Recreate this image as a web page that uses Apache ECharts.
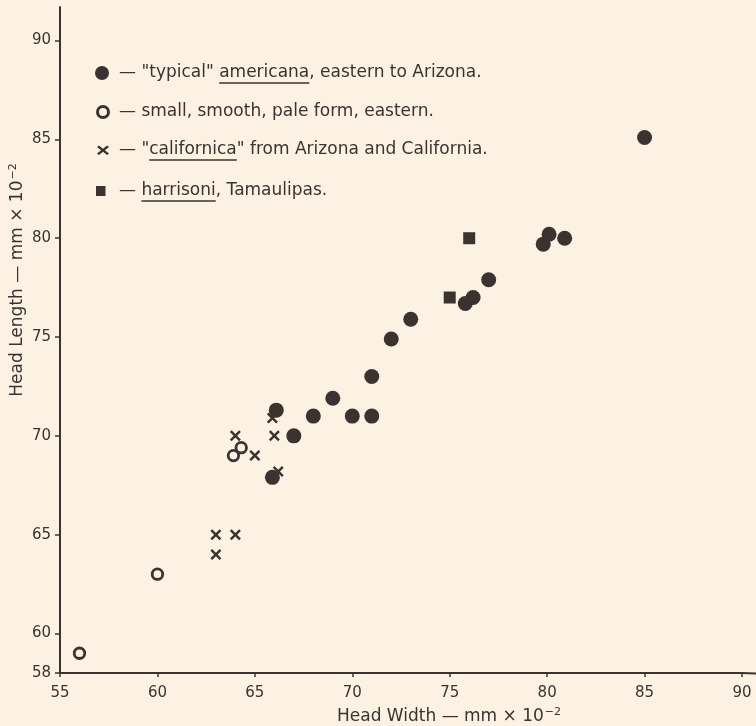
<!DOCTYPE html>
<html>
<head>
<meta charset="utf-8">
<script src="https://cdn.jsdelivr.net/npm/echarts@6/dist/echarts.min.js"></script>
<style>
html,body{margin:0;padding:0;background:#fcf2e3;}
#c{width:756px;height:726px;}
</style>
</head>
<body>
<div id="c"></div>
<script>
// ---- data (Head Width, Head Length), mm x 10^-2 ----
const typicalAmericana = [
  [85, 85.1], [80.1, 80.2], [80.9, 80.0], [79.8, 79.7], [77, 77.9],
  [76.2, 77.0], [75.8, 76.7], [73, 75.9], [72, 74.9], [71, 73],
  [69, 71.9], [68, 71], [70, 71], [71, 71], [66.1, 71.3], [67, 70], [65.9, 67.9]
];
const smallPaleForm = [[64.3, 69.4], [63.9, 69], [60, 63], [56, 59]];
const californica = [
  [65.9, 70.9], [66, 70], [64, 70], [65, 69], [66.2, 68.2], [63, 65], [64, 65], [63, 64]
];
const harrisoni = [[76, 80], [75, 77]];

const xTicks = [55, 60, 65, 70, 75, 80, 85, 90];
const yTicks = [58, 60, 65, 70, 75, 80, 85, 90];

const legendLines = [
  ['— "typical" ', 'americana', ', eastern to Arizona.'],
  ['— small, smooth, pale form, eastern.', '', ''],
  ['— "', 'californica', '" from Arizona and California.'],
  ['— ', 'harrisoni', ', Tamaulipas.']
];
const xTitle = 'Head Width — mm × 10{s|−2}';
const yTitle = 'Head Length — mm × 10{s|−2}';

const ink = '#3a3330';
const bg = '#fcf2e3';
const crossPath = 'path://M1.6,0 L5,3.4 L8.4,0 L10,1.6 L6.6,5 L10,8.4 L8.4,10 L5,6.6 L1.6,10 L0,8.4 L3.4,5 L0,1.6 Z';
const crossPts = [[1.6,0],[5,3.4],[8.4,0],[10,1.6],[6.6,5],[10,8.4],[8.4,10],[5,6.6],[1.6,10],[0,8.4],[3.4,5],[0,1.6]];
const font = 'DejaVu Sans';
const legFontSize = 17;

const chart = echarts.init(document.getElementById('c'), null, {renderer: 'canvas'});

const mctx = document.createElement('canvas').getContext('2d');
mctx.font = legFontSize + 'px "' + font + '"';
function w(s) { return mctx.measureText(s).width; }

const rowY = [73, 112, 150, 191];
const symX = 103, textX = 119;
const graphics = [];
legendLines.forEach((parts, i) => {
  const y = rowY[i];
  graphics.push({
    type: 'text', x: textX, y: y,
    style: {text: parts.join(''), fill: ink, font: legFontSize + 'px "' + font + '"', verticalAlign: 'middle'}
  });
  if (parts[1]) {
    const x0 = textX + w(parts[0]);
    const x1 = x0 + w(parts[1]);
    graphics.push({
      type: 'line', shape: {x1: x0, y1: y + 10, x2: x1, y2: y + 10},
      style: {stroke: ink, lineWidth: 1.5}
    });
  }
});
// legend symbols
graphics.push({type: 'circle', shape: {cx: 102, cy: rowY[0], r: 7}, style: {fill: ink}});
graphics.push({type: 'circle', shape: {cx: symX, cy: rowY[1], r: 5.5}, style: {fill: 'none', stroke: ink, lineWidth: 3}});
graphics.push({type: 'polygon', shape: {points: crossPts.map(p => [symX - 6 + p[0] * 1.2, rowY[2] - 4.5 + p[1] * 0.95])}, style: {fill: ink}});
graphics.push({type: 'rect', shape: {x: 96, y: rowY[3] - 5, width: 9.5, height: 10}, style: {fill: ink}});
// axis titles
const richSup = {s: {fontSize: 11, verticalAlign: 'top', padding: [0, 0, 9, 1], fill: ink, fontFamily: font}};
graphics.push({
  type: 'text', x: 18, y: 280, rotation: Math.PI / 2,
  style: {text: yTitle, fill: ink, font: '17px "' + font + '"', align: 'center', verticalAlign: 'middle', rich: richSup}
});
graphics.push({
  type: 'text', x: 337, y: 717,
  style: {text: xTitle, fill: ink, font: '17px "' + font + '"', align: 'left', verticalAlign: 'middle', rich: richSup}
});
// short extension of the bottom axis line past the last tick
graphics.push({type: 'line', shape: {x1: 742, y1: 673, x2: 756, y2: 673.5}, style: {stroke: ink, lineWidth: 2}});

chart.setOption({
  backgroundColor: bg,
  animation: false,
  grid: {left: 60, right: 14, top: 7, bottom: 53},
  xAxis: {
    type: 'value', min: 55, max: 90, interval: 5,
    axisLine: {show: true, lineStyle: {color: ink, width: 2}},
    splitLine: {show: false},
    axisLabel: {color: ink, fontSize: 15, fontFamily: font, margin: 13},
    axisTick: {show: true, length: 4, lineStyle: {color: ink, width: 1.5}}
  },
  yAxis: {
    type: 'value', min: 58, max: 91.7,
    axisLine: {show: true, lineStyle: {color: ink, width: 2}},
    splitLine: {show: false},
    axisLabel: {color: ink, fontSize: 15, fontFamily: font, margin: 9, customValues: yTicks},
    axisTick: {show: true, length: 5, lineStyle: {color: ink, width: 1.5}, customValues: yTicks}
  },
  graphic: graphics,
  series: [
    {
      name: 'typical americana', type: 'scatter', data: typicalAmericana,
      symbol: 'circle', symbolSize: 15,
      itemStyle: {color: ink, opacity: 1}
    },
    {
      name: 'small pale form', type: 'scatter', data: smallPaleForm,
      symbol: 'circle', symbolSize: 10.5,
      itemStyle: {color: bg, borderColor: ink, borderWidth: 2.8, opacity: 1}
    },
    {
      name: 'californica', type: 'scatter', data: californica,
      symbol: crossPath, symbolSize: 11,
      itemStyle: {color: ink, opacity: 1}
    },
    {
      name: 'harrisoni', type: 'scatter', data: harrisoni,
      symbol: 'rect', symbolSize: 12,
      itemStyle: {color: ink, opacity: 1}
    }
  ]
});
</script>
</body>
</html>
